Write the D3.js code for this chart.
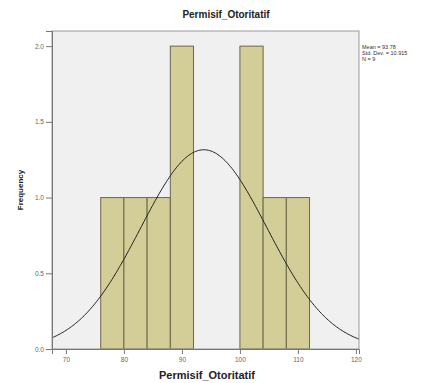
<!DOCTYPE html>
<html>
<head>
<meta charset="utf-8">
<script src="https://cdn.jsdelivr.net/npm/d3@7/dist/d3.min.js"></script>
<style>
  body { margin: 0; background: #fff; }
  .chart text { font-family: Arial, "Liberation Sans", sans-serif; }
</style>
</head>
<body>
<div class="chart"></div>
<script>
// Histogram bins (lower edge) and counts
var binStarts = [76, 80, 84, 88, 92, 96, 100, 104, 108];
var binWidth = 4;
var counts = [1, 1, 1, 2, 0, 0, 2, 1, 1];

// Axis ticks
var xTicks = [70, 80, 90, 100, 110, 120];
var yTicks = [0.0, 0.5, 1.0, 1.5, 2.0];

// Summary stats shown in the legend
var mean = 93.78;
var stdDev = 10.915;
var n = 9;
var statLines = ["Mean = 93.78", "Std. Dev. = 10.915", "N = 9"];

var svgWidth = 445;
var svgHeight = 383;
var margin = {top: 31, right: 86, bottom: 34, left: 52};
var width = svgWidth - margin.left - margin.right;
var height = svgHeight - margin.top - margin.bottom;

var svg = d3.select(".chart")
    .append("svg")
    .attr("width", svgWidth)
    .attr("height", svgHeight);

var chart = svg.append("g")
    .attr("transform", "translate(" + margin.left + "," + margin.top + ")");

// Scales (about 5.8 px per unit on x)
var xMin = 67.6;
var xMax = xMin + width / 5.8;
var xLinearScale = d3.scaleLinear().domain([xMin, xMax]).range([0, width]);
var yLinearScale = d3.scaleLinear().domain([0, 2.1]).range([height, 0]);

// Plot background
chart.append("rect")
    .attr("width", width)
    .attr("height", height)
    .attr("fill", "#f0f0f0");

// Bars
var bins = binStarts.map(function(s, i) { return {x0: s, x1: s + binWidth, count: counts[i]}; })
    .filter(function(d) { return d.count > 0; });

chart.selectAll(".bar")
    .data(bins)
    .enter().append("rect")
    .attr("class", "bar")
    .attr("x", function(d) { return xLinearScale(d.x0); })
    .attr("width", function(d) { return xLinearScale(d.x1) - xLinearScale(d.x0); })
    .attr("y", function(d) { return yLinearScale(d.count); })
    .attr("height", function(d) { return height - yLinearScale(d.count); })
    .attr("fill", "#d3ce97")
    .attr("stroke", "#6b6848")
    .attr("stroke-width", 1);

// Normal curve scaled to the histogram
var peak = n * binWidth / (stdDev * Math.sqrt(2 * Math.PI));
var curveXs = d3.range(0, 221).map(function(i) { return xMin + i * (xMax - xMin) / 220; });
var line = d3.line()
    .x(function(d) { return xLinearScale(d); })
    .y(function(d) { return yLinearScale(peak * Math.exp(-0.5 * Math.pow((d - mean) / stdDev, 2))); });

chart.append("path")
    .datum(curveXs)
    .attr("d", line)
    .attr("fill", "none")
    .attr("stroke", "#222")
    .attr("stroke-width", 1);

// Frame
chart.append("rect")
    .attr("width", width)
    .attr("height", height)
    .attr("fill", "none")
    .attr("stroke", "#999")
    .attr("stroke-width", 1);

// Axes
var bottomAxis = d3.axisBottom(xLinearScale).tickValues(xTicks).tickSize(5).tickFormat(d3.format("d"));
var leftAxis = d3.axisLeft(yLinearScale).tickValues(yTicks).tickSize(6).tickFormat(d3.format(".1f"));

var xAxis = chart.append("g")
    .attr("transform", "translate(0," + height + ")")
    .call(bottomAxis);
var yAxis = chart.append("g")
    .call(leftAxis);

[xAxis, yAxis].forEach(function(ax) {
    ax.select(".domain").attr("stroke", "#777");
    ax.selectAll(".tick line").attr("stroke", "#777");
    ax.selectAll(".tick text")
        .attr("fill", "#666")
        .style("font-size", "6.5px");
});
yAxis.selectAll(".tick text").attr("x", -8);

// Title
svg.append("text")
    .attr("x", 226)
    .attr("y", 18)
    .attr("text-anchor", "middle")
    .style("font-size", "10px")
    .style("font-weight", "bold")
    .attr("fill", "#222")
    .text("Permisif_Otoritatif");

// x-axis label
svg.append("text")
    .attr("x", 207)
    .attr("y", 379)
    .attr("text-anchor", "middle")
    .style("font-size", "11px")
    .style("font-weight", "bold")
    .attr("fill", "#222")
    .text("Permisif_Otoritatif");

// y-axis label
svg.append("text")
    .attr("transform", "translate(23," + (margin.top + height / 2) + ") rotate(-90)")
    .attr("text-anchor", "middle")
    .style("font-size", "8px")
    .style("font-weight", "bold")
    .attr("fill", "#222")
    .text("Frequency");

// Stats legend
svg.append("g").selectAll("text")
    .data(statLines)
    .enter().append("text")
    .attr("x", 362)
    .attr("y", function(d, i) { return 49 + i * 6; })
    .style("font-size", "5.5px")
    .attr("fill", "#333")
    .text(function(d) { return d; });
</script>
</body>
</html>
